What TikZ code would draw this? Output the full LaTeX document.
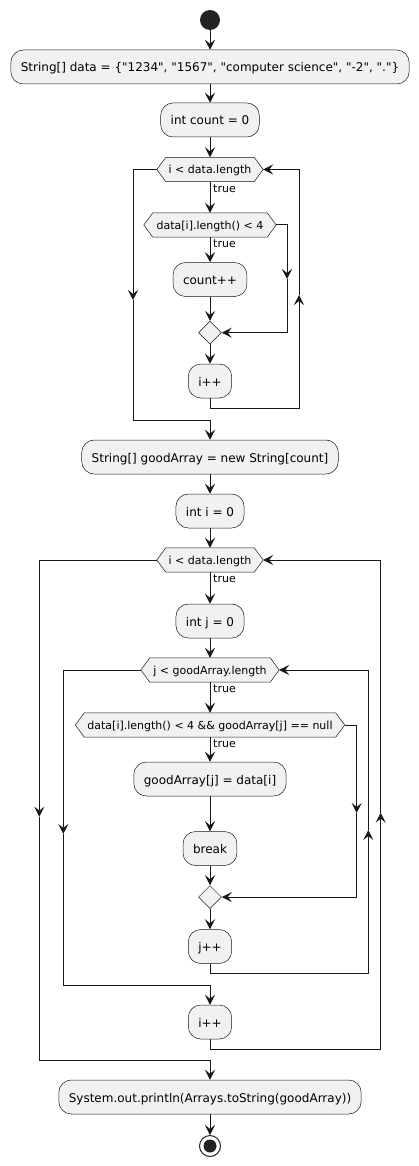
\documentclass[tikz,border=0pt]{standalone}
\usepackage{fontspec}
\setmainfont{DejaVu Sans}[Ligatures=TeXOff]
\usetikzlibrary{arrows.meta,calc,shapes.geometric,backgrounds}
\definecolor{boxfill}{HTML}{F1F1F1}
\definecolor{ink}{HTML}{181818}
\definecolor{dot}{HTML}{222222}
\newcommand{\hexdraw}[1]{%
  \draw[hexline] (#1.north west) -- (#1.north east) -- (#1E) -- (#1.south east) -- (#1.south west) -- (#1W) -- cycle;}
\newcommand{\hexpoints}[1]{%
  \coordinate (#1E) at ($(#1.east)+(9,0)$);
  \coordinate (#1W) at ($(#1.west)+(-9,0)$);}
\begin{document}
\begin{tikzpicture}[x=1pt,y=-1pt,
  flow/.style={draw=ink, line width=1pt, -{Stealth[length=10pt,width=10pt,inset=4pt]}},
  act/.style={draw=ink, line width=0.5pt, fill=boxfill, rounded corners=12.5pt, minimum height=34pt, inner xsep=10pt, inner ysep=0pt, font=\fontsize{12}{14}\selectfont, text height=10pt, text depth=0pt},
  hexnode/.style={inner sep=0pt, minimum height=24pt, font=\fontsize{11}{13}\selectfont, text height=9pt, text depth=0pt},
  hexline/.style={draw=ink, line width=0.5pt, fill=boxfill},
  merge/.style={diamond, draw=ink, line width=0.5pt, fill=boxfill, minimum width=23pt, minimum height=23pt, inner sep=0pt},
  lbl/.style={font=\fontsize{11}{13}\selectfont, anchor=base west, inner sep=0pt}
]
\useasboundingbox (0,0) rectangle (419,1166);

% start / end
\node[circle, fill=dot, minimum size=20pt, inner sep=0pt] (start) at (210,20) {};

% first loop
\node[act] (b1) at (210,67) {String[] data = \{"1234", "1567", "computer science", "-2", "."\}};
\node[act] (b2) at (210,120) {int count = 0};
\node[hexnode, minimum width=88pt] (h1) at (210,169.5) {i < data.length};
\node[hexnode, minimum width=114pt] (h2) at (210,225) {data[i].length() < 4};
\node[act] (b3) at (210,279.5) {count++};
\node[merge] (m1) at (210,332.7) {};
\node[act] (b4) at (210,381) {i++};

% second part
\node[act] (b5) at (210,457) {String[] goodArray = new String[count]};
\node[act] (b6) at (210,511) {int i = 0};
\node[hexnode, minimum width=88pt] (h3) at (210,560) {i < data.length};
\node[act] (b7) at (210,621) {int j = 0};
\node[hexnode, minimum width=120pt] (h4) at (210,670) {j < goodArray.length};
\node[hexnode, minimum width=251pt] (h5) at (210,725) {data[i].length() < 4 \&\& goodArray[j] == null};
\node[act] (b8) at (210,779) {goodArray[j] = data[i]};
\node[act] (b9) at (210,848.5) {break};
\node[merge] (m2) at (210,897) {};
\node[act] (b10) at (210,946.5) {j++};
\node[act] (b11) at (210,1022) {i++};
\node[act] (b12) at (210,1097) {System.out.println(Arrays.toString(goodArray))};

\node[circle, draw=dot, line width=1pt, fill=white, minimum size=21pt, inner sep=0pt] (stop) at (210,1146) {};
\node[circle, fill=dot, minimum size=13pt, inner sep=0pt] (stopin) at (210,1146) {};

\hexpoints{h1}\hexpoints{h2}\hexpoints{h3}\hexpoints{h4}\hexpoints{h5}

\begin{scope}[on background layer]
  \fill[white] (0,0) rectangle (419,1166);
  \hexdraw{h1}\hexdraw{h2}\hexdraw{h3}\hexdraw{h4}\hexdraw{h5}
\end{scope}

% arrow-tip coordinates on loop lines
\coordinate (w1) at (133,300);
\coordinate (u1) at (299,295);
\coordinate (d2) at (287,279);
\coordinate (w3) at (39.3,816.7);
\coordinate (u3) at (380.7,812.7);
\coordinate (w4) at (63.3,834);
\coordinate (u4) at (368.3,830);
\coordinate (d5) at (356.7,813);

% straight flow
\draw[flow] (start) -- (b1);
\draw[flow] (b1) -- (b2);
\draw[flow] (b2) -- (h1);
\draw[flow] (h1) -- (h2);
\draw[flow] (h2) -- (b3);
\draw[flow] (b3) -- (m1);
\draw[flow] (m1) -- (b4);
\draw[flow] (b5) -- (b6);
\draw[flow] (b6) -- (h3);
\draw[flow] (h3) -- (b7);
\draw[flow] (b7) -- (h4);
\draw[flow] (h4) -- (h5);
\draw[flow] (h5) -- (b8);
\draw[flow] (b8) -- (b9);
\draw[flow] (b9) -- (m2);
\draw[flow] (m2) -- (b10);
\draw[flow] (b12) -- (stop);

% labels
\node[lbl] (lt1) at ($(h1.south)+(3,10.5)$) {true};
\node[lbl] (lt2) at ($(h2.south)+(3,10.5)$) {true};
\node[lbl] (lt3) at ($(h3.south)+(3,10.5)$) {true};
\node[lbl] (lt4) at ($(h4.south)+(3,10.5)$) {true};
\node[lbl] (lt5) at ($(h5.south)+(3,10.5)$) {true};

% first loop branches
\draw[flow] (h2E) -| (d2);
\draw[flow] (d2) |- (m1);
\draw[flow] (b4.south) -- ++(0,10) -| (u1);
\draw[flow] (u1) |- (h1E);
\draw[flow] (h1W) -| (w1);
\draw[flow] (w1) -- ++(0,120) -| (b5);

% inner if
\draw[flow] (h5E) -| (d5);
\draw[flow] (d5) |- (m2);
% inner loop
\draw[flow] (b10.south) -- ++(0,10) -| (u4);
\draw[flow] (u4) |- (h4E);
\draw[flow] (h4W) -| (w4);
\draw[flow] (w4) -- ++(0,151) -| (b11);
% outer loop
\draw[flow] (b11.south) -- ++(0,10) -| (u3);
\draw[flow] (u3) |- (h3E);
\draw[flow] (h3W) -| (w3);
\draw[flow] (w3) -- ++(0,243.3) -| (b12);
\end{tikzpicture}
\end{document}
